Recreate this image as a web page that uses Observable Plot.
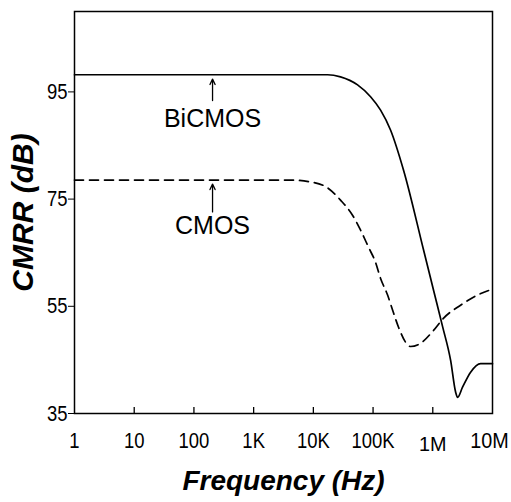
<!DOCTYPE html>
<html><head><meta charset="utf-8">
<script src="https://cdn.jsdelivr.net/npm/d3@7"></script>
<script src="https://cdn.jsdelivr.net/npm/@observablehq/plot@0.6"></script>
<style>
html,body{margin:0;padding:0;background:#fff;}
</style></head><body><div id="chart"></div>
<script>
const bicmosFreq = [1, 1000, 17300, 28500, 55000, 90800, 133600, 196000, 324000, 701000, 1030000, 1460000, 1990000, 2410000, 2600000, 3150000, 4300000, 6320000, 10000000];
const bicmosCMRR = [98.2, 98.2, 98.2, 97.8, 96.3, 94.1, 91.6, 87.9, 80.4, 65.5, 58.0, 51.2, 44.9, 39.0, 38.0, 39.9, 42.7, 44.3, 44.3];
const cmosFreq = [1, 1000, 4150, 8980, 17300, 28500, 45300, 61800, 84100, 110000, 133600, 175000, 212000, 267000, 350000, 424000, 625000, 1030000, 1520000, 2920000, 5620000, 10000000];
const cmosCMRR = [78.55, 78.55, 78.55, 78.2, 77.1, 74.8, 72.0, 69.2, 66.0, 63.2, 60.2, 57.1, 54.3, 51.1, 48.3, 47.5, 48.1, 50.5, 52.8, 55.2, 57.1, 58.2];
const xTicks = [1, 10, 100, 1e3, 1e4, 1e5, 1e6, 1e7];
const xTickLabels = ["1", "10", "100", "1K", "10K", "100K", "1M", "10M"];
const yTicks = [35, 55, 75, 95];
const curveNames = ["BiCMOS", "CMOS"];
const labelFreq = [205, 205];
const labelValue = [89.9, 70.0];
const arrowTip = [97.4, 77.8];
const arrowTail = [93.4, 72.6];

const bicmos = bicmosFreq.map((f, i) => ({f, v: bicmosCMRR[i]}));
const cmos = cmosFreq.map((f, i) => ({f, v: cmosCMRR[i]}));
const labels = curveNames.map((name, i) => ({name, f: labelFreq[i], v: labelValue[i], tip: arrowTip[i], tail: arrowTail[i]}));

const font = "'Liberation Sans', Arial, Helvetica, sans-serif";
const chart = Plot.plot({
  width: 511, height: 502,
  marginLeft: 74, marginRight: 19, marginTop: 11, marginBottom: 89,
  style: {fontFamily: font, color: "#000", background: "#fff"},
  x: {type: "log", domain: [1, 1e7]},
  y: {domain: [35, 110]},
  marks: [
    Plot.frame({stroke: "#000", strokeWidth: 1.5}),
    Plot.axisY({ticks: yTicks, tickSize: 6, tickPadding: 1, fontSize: 22, label: null, tickFormat: d => String(d)}),
    Plot.axisX({ticks: xTicks, tickSize: 0, tickPadding: 19, fontSize: 22, label: null, tickFormat: d => xTickLabels[xTicks.indexOf(d)]}),
    Plot.ruleX(xTicks.slice(1, -1), {stroke: "#000", strokeWidth: 1.3, insetTop: 396}),
    Plot.line(bicmos, {x: "f", y: "v", stroke: "#000", strokeWidth: 1.7, curve: "monotone-x"}),
    Plot.line(cmos, {x: "f", y: "v", stroke: "#000", strokeWidth: 1.7, strokeDasharray: "9,6", curve: "monotone-x"}),
    Plot.arrow(labels, {x1: "f", x2: "f", y1: "tail", y2: "tip", stroke: "#000", strokeWidth: 1.3, headLength: 7, headAngle: 50}),
    Plot.text(labels, {x: "f", y: "v", text: "name", fontSize: 25}),
    Plot.text(["CMRR (dB)"], {frameAnchor: "left", dx: -51, rotate: -90, textAnchor: "middle", lineAnchor: "middle", fontSize: 30, fontWeight: "bold", fontStyle: "italic"}),
    Plot.text(["Frequency (Hz)"], {frameAnchor: "bottom", dy: 68, textAnchor: "middle", lineAnchor: "middle", fontSize: 28, fontWeight: "bold", fontStyle: "italic"})
  ]
});
// the scanned tick labels are tall and narrow: compress them horizontally
d3.select(chart).selectAll('g[aria-label="x-axis tick label"] text, g[aria-label="y-axis tick label"] text').each(function() {
  const t = this.getAttribute("transform");
  let extra = " scale(0.84,1)";
  if (this.textContent === "1M") { extra = " translate(0,5) scale(0.9,0.88)"; }
  if (this.textContent === "10M") { extra = " translate(-3,0) scale(0.9,1)"; }
  if (t) this.setAttribute("transform", t + extra);
});
document.getElementById("chart").appendChild(chart);
</script></body></html>
